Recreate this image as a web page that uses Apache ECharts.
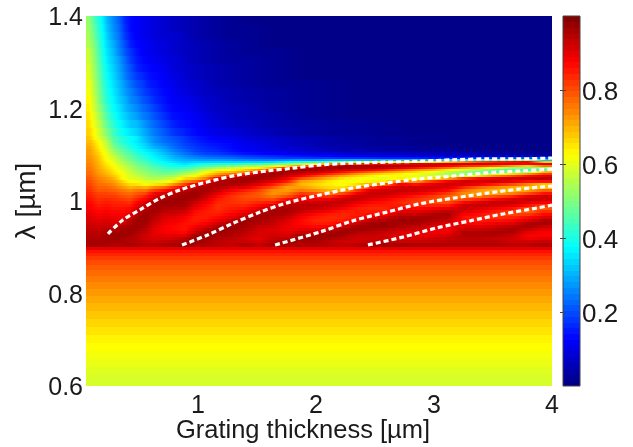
<!DOCTYPE html>
<html><head><meta charset="utf-8">
<style>html,body{margin:0;padding:0;background:#fff}#c{width:633px;height:447px}</style>
<script src="https://cdn.jsdelivr.net/npm/echarts@6/dist/echarts.min.js"></script>
</head><body><div id="c"></div>
<script>
// Tick labels
const xTicks=[1,2,3,4];
const yTicks=[0.6,0.8,1,1.2,1.4];
const barTicks=[0.2,0.4,0.6,0.8];
// Upper field: lambda 1.132-1.4 (values in %), listed column by column, top to bottom
const topX=[.05,.101,.152,.203,.253,.304,.355,.406,.457,.508,.558,.609,.677,.744,.813,.897,.982,1.084,1.203,1.355,1.542,1.779,2.118,2.542,3.05,4];
const topY=[1.4,1.3827,1.3654,1.3481,1.3308,1.3135,1.2962,1.2789,1.2616,1.2443,1.227,1.2097,1.1924,1.1751,1.1578,1.1405,1.1319];
const topColumns=[
[52,53,54,55,57,58,59,60,61,62,63,64,65,66,67,68],
[44,46,47,49,50,51,52,53,54,55,56,57,59,60,62,63],
[38,39,40,41,42,43,44,45,46,47,48,50,52,54,56,58],
[31,32,33,34,35,36,37,38,39,40,41,43,45,47,50,53],
[26,27,28,30,31,32,33,34,35,36,37,38,40,42,44,46],
[22,23,24,25,26,28,29,30,31,32,33,35,36,38,40,43],
[16,17,18,20,21,23,24,25,27,28,30,31,33,35,37,40],
[13,13,14,15,17,18,20,21,23,25,26,28,30,32,35,38],
[12,12,12,13,14,15,16,18,20,22,24,26,28,31,33,36],
[11,11,11,12,12,13,14,16,18,19,21,23,25,28,30,32],
[10,10,10,11,11,12,13,14,15,17,19,21,23,25,27,29],
[9,9,9,10,10,11,12,13,14,15,16,18,20,22,24,26],
[8,8,8,9,9,10,11,12,12,13,14,15,17,19,21,23],
[7,7,8,8,8,9,9,10,11,12,12,13,14,16,18,21],
[6,6,7,7,7,8,8,9,9,10,11,12,13,14,16,19],
[5,5,5,6,6,6,7,7,8,9,10,11,12,13,14,16],
[4,4,4,5,5,5,6,6,7,7,8,9,10,11,12,14],
[3,3,3,4,4,4,5,5,5,6,7,7,8,9,10,12],
[2,2,2,3,3,3,4,4,4,5,5,6,6,7,9,11],
[1,2,2,2,2,3,3,3,3,4,4,5,5,6,7,9],
[1,1,1,1,2,2,2,2,2,3,3,3,4,4,5,7],
[1,1,1,1,1,1,1,1,2,2,2,2,2,3,3,5],
[1,1,1,1,1,1,1,1,1,1,1,1,1,2,2,3],
[1,1,1,1,1,1,1,1,1,1,1,1,1,1,1,2],
[1,1,1,1,1,1,1,1,1,1,1,1,1,1,1,1]
];
// Resonance field: lambda 0.9-1.132 (values in %), column by column, top to bottom
const midX=[.05,.118,.186,.253,.321,.389,.457,.525,.592,.677,.762,.847,.931,1.016,1.118,1.219,1.338,1.457,1.575,1.694,1.813,1.931,2.05,2.169,2.287,2.406,2.525,2.643,2.779,2.914,3.05,3.186,3.321,3.457,3.592,3.728,3.864,4];
const midY=[1.1319,1.1254,1.1189,1.1124,1.1059,1.0995,1.0951,1.0908,1.0865,1.0822,1.0778,1.0735,1.0692,1.0649,1.0605,1.0562,1.0519,1.0454,1.0389,1.0324,1.0259,1.0195,1.013,1.0065,1,.9935,.987,.9805,.9741,.9676,.9611,.9546,.9481,.9416,.9351,.9286,.9222,.9157,.9092,.9005];
const midColumns=[
[69,70,71,72,72, 73,73,74,74,75,75,76,76,77,77,78, 79,80,81,82,83,84,85,86, 87,88,88,89,90,91,91,92, 93,94,94,95,95,96,96],
[63,64,65,66,67, 68,69,69,70,70,71,71,72,72,73,74, 75,76,77,78,79,81,82,83, 84,85,86,87,88,89,90,91, 92,93,94,94,95,96,96],
[56,57,58,60,61, 62,62,63,64,65,66,67,68,69,70,71, 73,74,76,78,79,81,82,84, 85,86,87,88,89,90,91,92, 93,94,95,96,96,96,96],
[46,48,50,52,54, 57,58,59,60,61,62,63,64,65,66,68, 70,72,74,76,78,80,82,83, 84,85,86,87,88,89,90,91, 93,95,96,97,97,96,95],
[41,43,45,47,49, 51,52,53,55,56,58,59,60,61,62,63, 63,67,70,73,76,78,80,82, 84,85,86,87,88,89,90,92, 95,96,97,97,96,96,95],
[38,39,41,43,45, 47,48,49,51,52,54,55,56,57,58,59, 60,62,66,70,74,77,79,81, 83,85,87,88,90,92,94,95, 96,97,97,96,95,95,96],
[35,36,37,39,41, 43,44,45,47,48,50,51,52,54,55,57, 59,61,65,71,76,79,82,85, 88,90,92,94,95,96,97,97, 97,96,95,94,94,94,95],
[31,33,34,36,38, 40,41,42,44,46,47,49,50,51,53,54, 56,59,63,70,76,81,85,88, 91,93,94,96,97,97,97,96, 95,94,93,92,92,93,94],
[26,28,30,33,35, 36,37,38,40,42,44,46,47,49,50,52, 55,59,65,74,82,88,91,94, 96,97,97,96,95,94,93,92, 91,90,90,90,91,92,94],
[23,25,27,29,31, 33,34,35,37,39,41,43,45,47,49,52, 56,60,67,77,86,92,95,96, 97,96,95,94,92,91,90,89, 88,88,88,90,91,93,95],
[21,22,23,25,27, 29,30,32,34,37,39,42,45,48,50,54, 59,65,74,84,91,94,96,97, 97,96,95,93,92,90,89,88, 87,87,88,90,92,94,96],
[18,19,20,22,24, 26,28,30,32,35,38,43,47,51,55,59, 66,73,82,90,94,96,97,97, 96,96,94,92,90,88,87,86, 86,86,87,90,94,96,97],
[16,17,18,19,21, 24,26,29,33,37,42,46,50,54,58,62, 68,78,90,94,96,97,97,95, 93,91,89,87,86,85,85,86, 88,90,93,96,97,97,96],
[14,15,16,17,19, 22,25,28,33,39,45,50,56,62,65,69, 75,87,94,96,96,95,93,91, 89,87,86,85,85,85,86,88, 91,94,96,97,97,96,95],
[13,14,15,16,18, 21,24,28,33,40,47,54,60,67,72,78, 90,95,96,95,93,90,87,85, 84,83,83,84,85,87,89,92, 95,97,97,96,95,94,94],
[12,13,13,14,16, 20,23,27,33,40,49,57,63,69,76,85, 95,96,95,92,88,85,83,83, 83,84,85,86,88,90,93,95, 97,97,96,95,94,93,93],
[10,11,11,12,14, 18,21,26,33,42,52,60,67,74,84,93, 97,96,94,90,85,82,80,81, 82,84,86,88,91,94,97,97, 96,95,94,93,92,93,95],
[9,10,10,11,13, 17,20,25,33,43,54,63,74,88,94,97, 96,94,90,85,81,79,79,81, 84,87,90,93,96,97,96,95, 93,92,91,91,90,91,93],
[8,8,9,10,12, 16,19,25,34,46,58,70,86,95,97,96, 94,90,85,79,74,73,76,80, 85,90,94,96,96,95,94,93, 92,91,91,92,93,94,96],
[7,7,8,9,11, 15,18,26,37,49,66,88,97,96,95,93, 89,85,77,72,72,75,80,87, 92,95,96,96,95,93,91,90, 89,89,90,91,94,97,96],
[6,6,7,8,10, 14,18,27,40,56,74,93,97,95,92,88, 80,72,70,72,76,82,86,89, 92,94,94,93,90,88,87,87, 88,90,93,96,97,96,95],
[5,5,6,7,9, 13,17,27,42,62,86,95,97,93,88,82, 75,69,67,69,74,80,85,89, 92,94,93,90,87,85,84,85, 87,90,93,96,97,96,95],
[4,4,5,6,9, 13,17,29,46,75,94,97,94,90,84,76, 70,65,64,66,70,76,83,89, 93,93,91,88,85,84,84,85, 88,92,96,97,96,94,94],
[3,4,4,5,8, 12,16,30,50,80,96,97,92,86,79,71, 65,62,62,65,71,80,88,93, 93,91,88,85,84,84,85,88, 92,96,97,96,94,92,93],
[3,3,4,5,7, 11,16,30,55,84,96,96,90,82,73,67, 63,62,66,72,82,88,93,93, 90,87,85,85,85,86,89,93, 96,97,95,93,92,92,94],
[2,3,3,4,7, 11,16,30,58,86,96,95,88,78,69,64, 61,64,72,84,91,93,92,90, 87,85,84,85,87,90,94,96, 97,96,94,93,92,93,96],
[2,2,3,4,7, 10,15,30,60,88,96,93,85,74,66,62, 60,64,78,88,92,93,91,88, 86,85,84,85,88,92,95,97, 97,95,93,92,92,94,96],
[2,2,3,4,6, 10,15,30,60,89,96,90,80,70,64,61, 64,76,88,92,93,91,88,85, 84,85,88,90,93,96,97,96, 95,93,91,90,91,93,96],
[1,2,2,3,6, 9,15,30,62,90,94,86,74,66,61,60, 62,72,86,92,92,89,85,83, 82,84,87,90,93,96,97,96, 94,92,90,90,91,93,95],
[1,1,2,3,5, 9,14,32,65,91,92,82,70,62,58,58, 66,82,90,92,90,86,82,80, 81,84,88,92,95,96,95,93, 91,89,89,90,92,93,95],
[1,1,2,3,5, 8,14,35,70,92,88,76,64,56,54,57, 72,88,92,91,87,82,78,77, 80,85,90,94,96,95,93,91, 89,88,89,91,93,94,95],
[1,1,1,2,4, 8,15,38,74,92,84,70,58,52,50,58, 82,92,91,84,77,74,75,80, 87,92,93,91,88,86,86,88, 91,93,95,95,94,94,95],
[1,1,1,2,4, 8,16,42,80,92,82,66,53,48,52,66, 88,92,88,78,72,72,76,84, 91,93,91,88,86,85,85,87, 90,93,95,95,94,94,95],
[1,1,1,2,3, 7,18,46,84,91,78,60,48,44,58,74, 90,92,84,74,70,72,80,88, 93,92,88,85,83,83,86,89, 92,94,96,95,93,94,95],
[1,1,1,1,3, 7,20,48,86,90,72,54,44,50,66,80, 92,90,80,71,69,74,84,91, 93,90,86,82,81,84,87,90, 94,96,95,93,92,92,94],
[1,1,1,1,2, 7,22,50,88,88,66,50,42,54,72,86, 93,86,74,68,72,80,90,93, 90,86,80,78,82,87,91,95, 96,93,90,88,89,92,94],
[1,1,1,1,2, 5,20,32,68,90,76,52,44,70,82,90, 94,86,68,68,78,86,92,92, 88,82,79,83,87,91,95,96, 93,90,88,88,90,93,95]
];
// Lower field: lambda 0.6-0.9, nearly independent of thickness (values in %)
const lowY=[.9005,.894,.8876,.881,.8724,.8616,.8508,.8378,.8249,.8097,.7946,.7795,.7622,.7449,.7276,.7103,.693,.6757,.6584,.6411,.6238,.6];
const lowValues=[90,86,84,82,80,78.5,77,75.5,74,72.5,71,69.5,68,66.5,65,63.5,62.5,61.5,60.5,59.5,58.5];
// Dashed resonance curves: [thickness, lambda]
const curve1=[[.236,.929],[.362,.959],[.507,.981],[.677,1.006],[.847,1.024],[1.076,1.041],[1.33,1.056],[1.585,1.065],[1.805,1.071],[2.033,1.078],[2.31,1.082],[2.6,1.084],[2.88,1.086],[3.16,1.089],[3.45,1.091],[3.73,1.091],[4,1.093]];
const curve2=[[.864,.905],[1.076,.926],[1.297,.952],[1.525,.976],[1.754,.996],[2.033,1.013],[2.31,1.028],[2.6,1.039],[2.88,1.048],[3.16,1.054],[3.45,1.061],[3.73,1.065],[4,1.069]];
const curve3=[[1.653,.905],[2.033,.933],[2.31,.957],[2.6,.976],[2.88,.994],[3.16,1.006],[3.45,1.017],[3.73,1.026],[4,1.032]];
const curve4=[[2.44,.905],[2.735,.922],[3.025,.942],[3.305,.957],[3.585,.972],[3.875,.985],[4,.991]];
// Colour bar levels
const barLevels=[.008,.023,.039,.055,.070,.086,.102,.117,.133,.148,.164,.180,.195,.211,.227,.242,.258,.273,.289,.305,.320,.336,.352,.367,.383,.398,.414,.430,.445,.461,.477,.492,.508,.523,.539,.555,.570,.586,.602,.617,.633,.648,.664,.680,.695,.711,.727,.742,.758,.773,.789,.805,.820,.836,.852,.867,.883,.898,.914,.930,.945,.961,.977,.992];

const jet=['#00007f','#0000ff','#007fff','#00ffff','#7fff7f','#ffff00','#ff7f00','#ff0000','#7f0000'];
const ink='#1a1a1a', fontFamily='"Liberation Sans",Arial,sans-serif';

const cells=[];
function addGrid(xs,ys,cols){
  cols.forEach((col,i)=>col.forEach((v,j)=>{
    const l=i>0?cols[i-1][j]:v, r=i<cols.length-1?cols[i+1][j]:v;
    cells.push([xs[i],xs[i+1],ys[j],ys[j+1],v/100,l/100,r/100]);
  }));
}
addGrid(topX,topY,topColumns);
addGrid(midX,midY,midColumns);
lowValues.forEach((v,j)=>cells.push([.05,4,lowY[j],lowY[j+1],v/100,v/100,v/100]));
const barCells=barLevels.map(v=>[0,1,Math.max(0,v-.0085),Math.min(1,v+.0085),v,v,v]);

function drawCell(params,api){
  const a=api.coord([api.value(0),api.value(2)]), b=api.coord([api.value(1),api.value(3)]);
  const x0=Math.round(Math.min(a[0],b[0])), x1=Math.round(Math.max(a[0],b[0]));
  const y0=Math.round(Math.min(a[1],b[1])), y1=Math.round(Math.max(a[1],b[1]));
  const v=api.value(4), l=(api.value(5)+v)/2, r=(api.value(6)+v)/2;
  const tint=t=>echarts.color.lerp(t,jet);
  const fill=(l===v&&r===v)?tint(v):new echarts.graphic.LinearGradient(0,0,1,0,[
    {offset:0,color:tint(l)},{offset:.25,color:tint((l+v)/2)},{offset:.5,color:tint(v)},
    {offset:.75,color:tint((v+r)/2)},{offset:1,color:tint(r)}]);
  return {type:'rect',shape:{x:x0,y:y0,width:x1-x0,height:y1-y0},style:{fill}};
}
function curveSeries(data){
  return {type:'line',xAxisIndex:0,yAxisIndex:0,data,smooth:.3,showSymbol:false,symbol:'none',z:5,silent:true,clip:true,
    lineStyle:{color:'#ffffff',width:3.2,type:[5,3],cap:'butt'}};
}
const labelStyle={color:ink,fontSize:25,fontFamily};
const chart=echarts.init(document.getElementById('c'),null,{renderer:'canvas'});
chart.setOption({
  animation:false,
  backgroundColor:'#ffffff',
  grid:[
    {left:86,top:16,width:466,height:370,outerBoundsMode:'none'},
    {left:563,top:16,width:17,height:370,outerBoundsMode:'none',show:true,borderColor:'#444444',borderWidth:1,backgroundColor:'transparent',z:10}
  ],
  xAxis:[
    {type:'value',gridIndex:0,min:.05,max:4,splitLine:{show:false},axisLine:{show:false},axisTick:{show:false},
     axisLabel:{...labelStyle,margin:8,customValues:xTicks,formatter:v=>String(v)},
     name:'Grating thickness [\u00b5m]',nameLocation:'middle',nameGap:32,nameMoveOverlap:false,
     nameTextStyle:{...labelStyle,fontSize:25.5,padding:[0,32,0,0]}},
    {type:'value',gridIndex:1,min:0,max:1,show:false}
  ],
  yAxis:[
    {type:'value',gridIndex:0,min:.6,max:1.4,splitLine:{show:false},axisLine:{show:false},axisTick:{show:false},
     axisLabel:{...labelStyle,margin:3,verticalAlign:'top',lineHeight:5,customValues:yTicks,formatter:v=>String(+v.toFixed(1))},
     name:'\u03bb [\u00b5m]',nameLocation:'middle',nameGap:45,nameMoveOverlap:false,nameTextStyle:{...labelStyle,fontSize:28}},
    {type:'value',gridIndex:1,position:'right',min:0,max:1,splitLine:{show:false},axisLine:{show:false},z:12,
     axisTick:{inside:true,length:3,lineStyle:{color:'#444444'},customValues:barTicks},
     axisLabel:{...labelStyle,fontSize:26,margin:2,verticalAlign:'top',lineHeight:5,customValues:barTicks,formatter:v=>v.toFixed(1)}},
    {type:'value',gridIndex:1,position:'left',min:0,max:1,splitLine:{show:false},axisLine:{show:false},z:12,
     axisTick:{inside:true,length:3,lineStyle:{color:'#444444'},customValues:barTicks},
     axisLabel:{show:false}}
  ],
  series:[
    {type:'custom',xAxisIndex:0,yAxisIndex:0,data:cells,renderItem:drawCell,encode:{x:[0,1],y:[2,3]},z:2,silent:true,clip:true},
    {type:'custom',xAxisIndex:1,yAxisIndex:1,data:barCells,renderItem:drawCell,encode:{x:[0,1],y:[2,3]},z:2,silent:true},
    curveSeries(curve1),curveSeries(curve2),curveSeries(curve3),curveSeries(curve4)
  ]
});
</script></body></html>
